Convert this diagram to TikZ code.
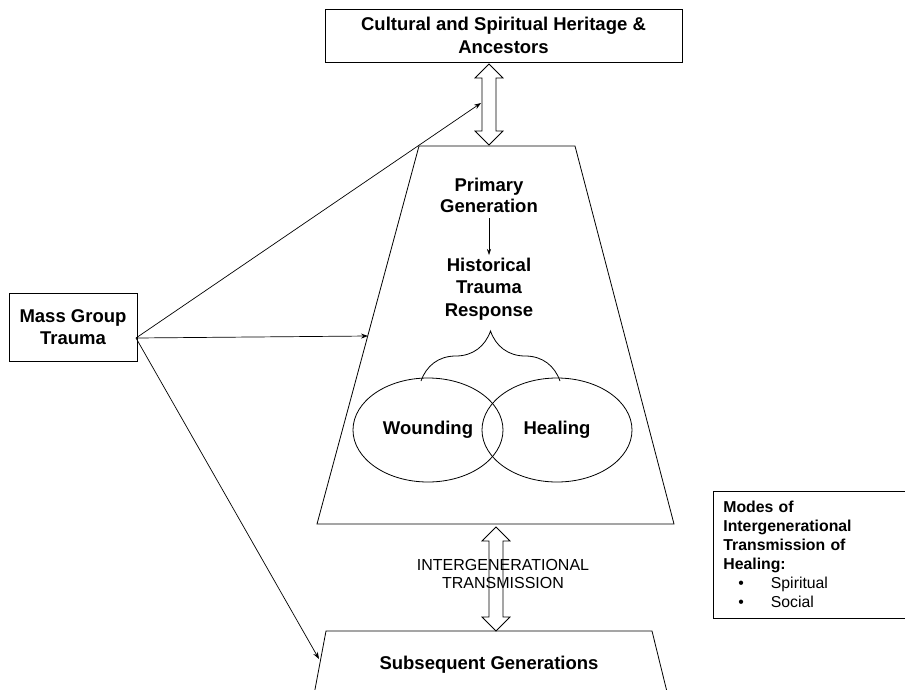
\documentclass[tikz,border=0pt]{standalone}
\usepackage{fontspec}
\setmainfont{Liberation Sans}
\usepackage{tikz}
\usetikzlibrary{arrows.meta,decorations.pathreplacing,shapes.geometric}

\tikzset{
  box/.style = {draw, line width=0.8pt, align=center, font=\fontsize{18.5}{22}\selectfont\bfseries},
  label/.style = {align=center, font=\fontsize{18.5}{21}\selectfont\bfseries},
  link/.style = {line width=0.7pt, -{Stealth[length=7pt,width=5pt]}},
  circlebox/.style = {draw, ellipse, minimum width=150pt, minimum height=104pt, inner sep=0pt},
  pics/hollowarrow/.style args = {#1}{code = {
    \draw[line width=0.8pt, fill=white] (0,0) -- (14,14) -- (7,14) -- (7,#1-14) -- (14,#1-14)
      -- (0,#1) -- (-14,#1-14) -- (-7,#1-14) -- (-7,14) -- (-14,14) -- cycle;
  }}
}

\begin{document}
\begin{tikzpicture}[x=1pt, y=-1pt, line width=0.8pt]
  \useasboundingbox (0,0) rectangle (905,689);

  % heritage at the top
  \node[box, font=\fontsize{18.5}{23}\selectfont\bfseries, minimum width=357pt, minimum height=53pt]
    (heritage) at (503.5,35.5) {Cultural and Spiritual Heritage \&\\Ancestors};

  % primary generation
  \coordinate (ptl) at (419,146);
  \coordinate (ptr) at (575,146);
  \coordinate (pbr) at (674,524);
  \coordinate (pbl) at (317,524);
  \draw (ptl) -- (ptr) -- (pbr) -- (pbl) -- cycle;

  % subsequent generations
  \coordinate (stl) at (326,631);
  \coordinate (str) at (652,631);
  \draw (313,700) -- (stl) -- (str) -- (669,700);

  \pic at (489,64) {hollowarrow=81};
  \pic at (496,527) {hollowarrow=104};

  \node[label] (primary) at (489,195) {Primary\\Generation};
  \node[label, font=\fontsize{18.5}{22.5}\selectfont\bfseries] (response) at (489,289)
    {Historical\\Trauma\\Response};
  \draw[-{Stealth[length=6pt,width=4pt]}, line width=0.6pt] (489,218) -- (489,255);

  \draw[decorate, decoration={brace, amplitude=50pt, raise=0pt}] (421,381) -- (560,381);

  \node[circlebox] (wound) at (428,430) {};
  \node[circlebox] (heal) at (557,430) {};
  \node[label] at (wound) {Wounding};
  \node[label] at (heal) {Healing};

  \node[align=center, font=\fontsize{16}{18}\selectfont] (transmission) at (503,574)
    {INTERGENERATIONAL\\TRANSMISSION};
  \node[label] (subsequent) at (489,665) {Subsequent Generations};

  % mass group trauma
  \node[box, minimum width=128pt, minimum height=68pt] (mass) at (73,327) {Mass Group\\Trauma};
  \coordinate (src) at (136,338);
  \coordinate (toheritage) at (481,103);
  \coordinate (toprimary) at (368,336);
  \coordinate (tosubsequent) at (319,659);
  \draw[link] (src) -- (toheritage);
  \draw[link] (src) -- (toprimary);
  \draw[link] (src) -- (tosubsequent);

  % legend
  \node[draw, anchor=north west, minimum width=200pt, minimum height=126pt,
        text width=180pt, align=left, inner xsep=10pt, inner ysep=10pt,
        font=\fontsize{15.8}{19}\selectfont] (modes) at (713,491)
    {\textbf{Modes of}\\ \textbf{Intergenerational}\\ \textbf{Transmission of}\\ \textbf{Healing:}\\
     \hspace*{15pt}\textbullet\hspace{27pt}Spiritual\\
     \hspace*{15pt}\textbullet\hspace{27pt}Social};
\end{tikzpicture}
\end{document}
